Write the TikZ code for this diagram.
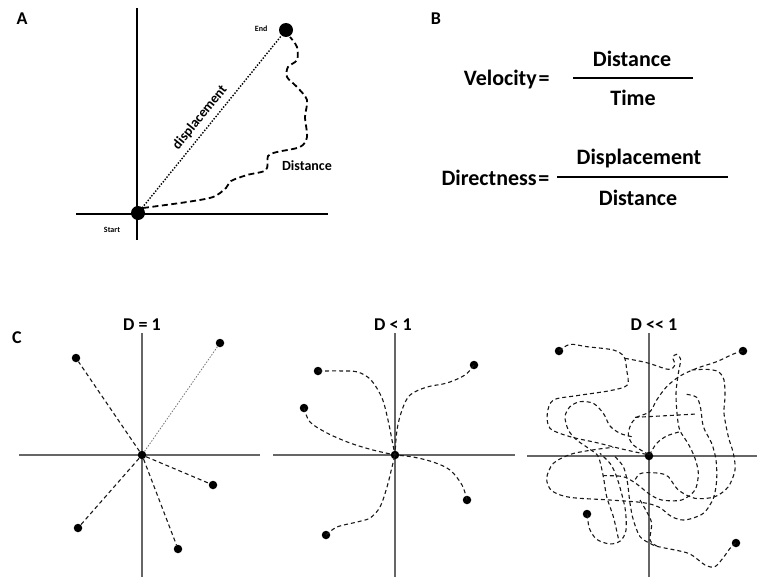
\documentclass[tikz,border=0pt]{standalone}
\usepackage{fontspec}
\setmainfont{Carlito}[BoldFont={Carlito Bold}]
\begin{document}
\begin{tikzpicture}[x=1pt,y=-1pt,
  axisA/.style={line width=1.8pt,black},
  axisC/.style={line width=1.3pt,black!60},
  bigdot/.style={circle,fill=black,inner sep=0pt,minimum size=14pt},
  cdot/.style={circle,fill=black,inner sep=0pt,minimum size=8.5pt},
  walkA/.style={line width=1.8pt,dash pattern=on 6pt off 3.5pt},
  walk/.style={line width=1.1pt,black!90,dash pattern=on 4pt off 3pt},
  fine/.style={line width=0.8pt,black!55,dash pattern=on 1.5pt off 1.5pt},
  panel/.style={font=\bfseries\fontsize{18}{20}\selectfont},
  eq/.style={font=\bfseries\fontsize{22}{25}\selectfont},
  sm/.style={font=\bfseries\fontsize{8}{9}\selectfont},
  mid/.style={font=\bfseries\fontsize{14}{16}\selectfont},
  frac/.style={line width=2pt,black}]
\useasboundingbox (0,0) rectangle (757,578);
\fill[white] (0,0) rectangle (757,578);

% ---------- Panel A ----------
\node[panel] (lA) at (22,19) {A};
\draw[axisA] (137,8) -- (137,240);
\draw[axisA] (76,214) -- (328,214);
\node[bigdot] (start) at (138,213) {};
\node[bigdot] (end) at (286,30) {};
\node[sm,anchor=east] (endl) at (271,29) {End};
\node[sm] (startl) at (112,230) {Start};
\draw[line width=2pt,line cap=round,dash pattern=on 0pt off 3pt] (start) -- node[pos=0.48,sloped,above=1.5pt,mid] (disp) {displacement} (end);
\draw[walkA] plot[smooth,tension=0.5] coordinates {(143,208) (187,202) (213,197) (226,188) (231,181) (247,175) (266,170) (268,156) (277,152) (300,147) (307,137) (305,117) (307,100) (297,87) (287,77) (288,67) (297,60) (297,47) (290,37)};
\node[mid] (distl) at (307,166) {Distance};

% ---------- Panel B ----------
\node[panel] (lB) at (436,19) {B};
\node[eq,anchor=east] (vel) at (553,80) {Velocity\hspace{0.08em}=};
\draw[frac] (573,78) -- (693,78);
\node[eq] (vnum) at (632,59) {Distance};
\node[eq] (vden) at (633,98) {Time};
\node[eq,anchor=east] (dir) at (553,178) {Directness\hspace{0.08em}=};
\draw[frac] (557,177) -- (728,177);
\node[eq] (dnum) at (639,159) {Displacement};
\node[eq] (dden) at (638,198) {Distance};

% ---------- Panel C ----------
\node[panel] (lC) at (17,338) {C};
\node[panel] (t1) at (142,325) {D = 1};
\node[panel] (t2) at (393,325) {D < 1};
\node[panel] (t3) at (654,325) {D {<}{<} 1};

% C1
\draw[axisC] (142,333) -- (142,577);
\draw[axisC] (19,455) -- (260,455);
\node[cdot] (c1) at (142,455) {};
\node[cdot] (c1a) at (76,358) {};
\node[cdot] (c1b) at (220,343) {};
\node[cdot] (c1c) at (213,485) {};
\node[cdot] (c1d) at (78,528) {};
\node[cdot] (c1e) at (178,549) {};
\draw[walk] (c1) -- (c1a);
\draw[fine] (c1) -- (c1b);
\draw[walk] (c1) -- (c1c);
\draw[walk] (c1) -- (c1d);
\draw[walk] (c1) -- (c1e);

% C2
\draw[axisC] (395,333) -- (395,577);
\draw[axisC] (273,455) -- (515,455);
\node[cdot] (c2) at (395,455) {};
\node[cdot] (c2a) at (318,371) {};
\node[cdot] (c2b) at (304,408) {};
\node[cdot] (c2c) at (474,365) {};
\node[cdot] (c2d) at (467,500) {};
\node[cdot] (c2e) at (326,535) {};
\draw[walk] plot[smooth,tension=0.55] coordinates {(c2a) (345,371) (358,372) (371,380) (382,398) (388,420) (392,440) (c2)};
\draw[walk] plot[smooth,tension=0.55] coordinates {(c2b) (310,422) (327,433) (350,443) (373,450) (c2)};
\draw[walk] plot[smooth,tension=0.55] coordinates {(c2c) (465,375) (447,383) (427,387) (410,395) (402,410) (397,430) (c2)};
\draw[walk] plot[smooth,tension=0.55] coordinates {(c2d) (462,485) (450,470) (433,462) (413,457) (c2)};
\draw[walk] plot[smooth,tension=0.55] coordinates {(c2e) (337,527) (357,522) (370,518) (380,507) (387,487) (392,467) (c2)};

% C3
\draw[axisC] (649,333) -- (649,577);
\draw[axisC] (527,456) -- (757,456);
\node[cdot] (c3) at (649,456) {};
\node[cdot] (c3a) at (559,351) {};
\node[cdot] (c3b) at (743,351) {};
\node[cdot] (c3c) at (587,514) {};
\node[cdot] (c3d) at (736,543) {};
\begin{scope}[shift={(500,300)},scale=1/3]
\draw[walk] plot[smooth,tension=0.5] coordinates {(177,152) (210,133) (260,140) (340,150) (372,170) (380,210) (382,255) (330,272) (230,287) (160,300) (142,340) (150,385) (210,410) (290,428) (370,448) (448,465)};
\draw[walk] plot[smooth,tension=0.5] coordinates {(728,153) (700,162) (650,185) (590,205) (540,228) (500,260) (470,300) (450,335) (410,352) (392,375) (385,405) (400,435) (448,465)};
\draw[walk] plot[smooth,tension=0.5] coordinates {(375,175) (440,188) (505,208) (525,195) (518,172) (530,163) (542,178) (535,220) (528,280) (532,350) (540,392) (565,432) (585,475) (595,520) (585,570) (545,600) (485,600) (448,582) (410,552) (370,530) (310,527)};
\draw[walk] plot[smooth,tension=0.5] coordinates {(448,465) (470,430) (500,408) (540,395)};
\draw[walk] plot[smooth,tension=0.5] coordinates {(405,352) (500,347) (590,342)};
\draw[walk] plot[smooth,tension=0.5] coordinates {(560,283) (590,292) (602,325) (610,380) (635,430) (648,480) (650,540) (640,595) (610,640) (555,660) (515,650) (478,622) (430,608) (330,600) (210,592) (155,572) (140,535) (160,490) (215,462) (290,448) (340,442)};
\draw[walk] plot[smooth,tension=0.5] coordinates {(575,210) (620,208) (655,215) (672,240) (675,290) (672,340) (685,410) (700,460) (705,510) (685,560) (645,590) (585,595) (535,570) (505,530) (480,520) (440,518) (418,522) (405,540)};
\draw[walk] plot[smooth,tension=0.5] coordinates {(262,643) (268,685) (290,718) (330,732) (362,722) (378,690) (376,630) (362,570) (348,525) (330,490) (300,460)};
\draw[walk] plot[smooth,tension=0.5] coordinates {(395,410) (360,400) (330,378) (310,340) (280,310) (240,305) (210,320) (195,350) (205,390) (230,420) (270,448) (295,470) (310,530) (320,590) (340,650) (355,715)};
\draw[walk] plot[smooth,tension=0.5] coordinates {(707,728) (690,745) (672,770) (645,800) (615,795) (565,760) (475,740) (450,730) (420,710) (400,660) (390,610) (382,545) (370,500) (345,470)};
\draw[walk] plot[smooth,tension=0.5] coordinates {(420,600) (440,635) (455,670) (450,720) (470,738)};
\end{scope}
\end{tikzpicture}
\end{document}
